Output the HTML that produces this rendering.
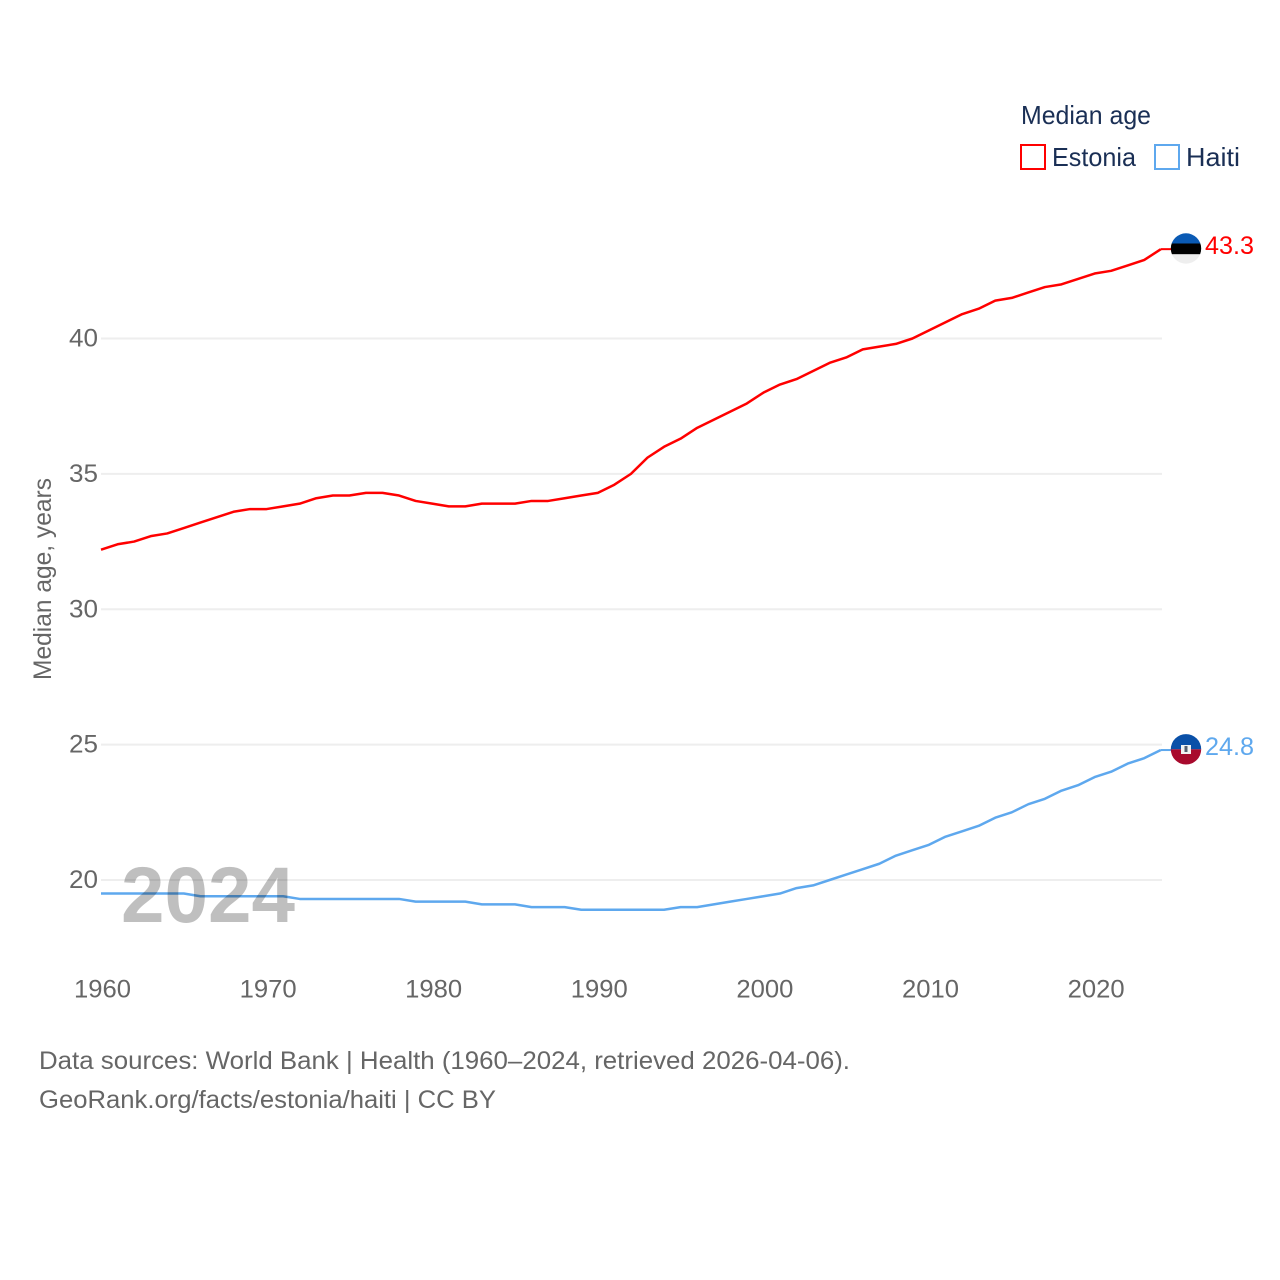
<!DOCTYPE html>
<html>
<head>
<meta charset="utf-8">
<title>Median age: Estonia and Haiti</title>
<style>
html,body{margin:0;padding:0;background:#fff;}
svg{display:block;font-family:"Liberation Sans",sans-serif;}
</style>
</head>
<body>
<svg id="chart" width="1280" height="1280" viewBox="0 0 1280 1280" xmlns="http://www.w3.org/2000/svg">
  <defs>
    <clipPath id="clip-ee"><circle cx="1186" cy="248.5" r="15.2"/></clipPath>
    <clipPath id="clip-ht"><circle cx="1186" cy="749.3" r="15.2"/></clipPath>
  </defs>
  <rect width="1280" height="1280" fill="#fff"/>
  <g id="grid"></g>
  <g id="yticks"></g>
  <g id="xticks"></g>
  <text transform="translate(51,680) rotate(-90)" font-size="25" fill="#666" textLength="202" lengthAdjust="spacingAndGlyphs">Median age, years</text>
  <g id="lines"></g>

  <text x="121" y="922" font-size="79" font-weight="bold" fill="rgba(0,0,0,0.25)" textLength="174" lengthAdjust="spacingAndGlyphs">2024</text>

  <g>
    <text x="1021" y="124" font-size="26" fill="#1a2f55" textLength="130" lengthAdjust="spacingAndGlyphs">Median age</text>
    <rect x="1021" y="145" width="24" height="24" fill="#fff" stroke="#ff0000" stroke-width="2"/>
    <text x="1052" y="166" font-size="26" fill="#1a2f55" textLength="84" lengthAdjust="spacingAndGlyphs">Estonia</text>
    <rect x="1155" y="145" width="24" height="24" fill="#fff" stroke="#5ea8ee" stroke-width="2"/>
    <text x="1186" y="166" font-size="26" fill="#1a2f55" textLength="54" lengthAdjust="spacingAndGlyphs">Haiti</text>
  </g>

  <g clip-path="url(#clip-ee)">
    <rect x="1170" y="233" width="32" height="10.5" fill="#0a5ab4"/>
    <rect x="1170" y="243.5" width="32" height="10.8" fill="#000"/>
    <rect x="1170" y="254.3" width="32" height="10" fill="#eeeeee"/>
  </g>
  <g clip-path="url(#clip-ht)">
    <rect x="1170" y="734" width="32" height="15.3" fill="#0a50a8"/>
    <rect x="1170" y="749.3" width="32" height="15.7" fill="#a80a2d"/>
    <rect x="1181" y="745" width="10" height="9" fill="#f2f2f2"/>
    <rect x="1184.5" y="746" width="3" height="6" fill="#556070"/>
  </g>
  <text x="1205" y="254" font-size="25" fill="#ff0000" textLength="49" lengthAdjust="spacingAndGlyphs">43.3</text>
  <text x="1205" y="755" font-size="25" fill="#5ea8ee" textLength="49" lengthAdjust="spacingAndGlyphs">24.8</text>

  <text x="39" y="1069" font-size="25" fill="#666" textLength="811" lengthAdjust="spacingAndGlyphs">Data sources: World Bank | Health (1960–2024, retrieved 2026-04-06).</text>
  <text x="39" y="1108" font-size="25" fill="#666" textLength="457" lengthAdjust="spacingAndGlyphs">GeoRank.org/facts/estonia/haiti | CC BY</text>
</svg>
<script>
const years = [1960,1961,1962,1963,1964,1965,1966,1967,1968,1969,1970,1971,1972,1973,1974,1975,1976,1977,1978,1979,1980,1981,1982,1983,1984,1985,1986,1987,1988,1989,1990,1991,1992,1993,1994,1995,1996,1997,1998,1999,2000,2001,2002,2003,2004,2005,2006,2007,2008,2009,2010,2011,2012,2013,2014,2015,2016,2017,2018,2019,2020,2021,2022,2023,2024];
const estonia = [32.2,32.4,32.5,32.7,32.8,33.0,33.2,33.4,33.6,33.7,33.7,33.8,33.9,34.1,34.2,34.2,34.3,34.3,34.2,34.0,33.9,33.8,33.8,33.9,33.9,33.9,34.0,34.0,34.1,34.2,34.3,34.6,35.0,35.6,36.0,36.3,36.7,37.0,37.3,37.6,38.0,38.3,38.5,38.8,39.1,39.3,39.6,39.7,39.8,40.0,40.3,40.6,40.9,41.1,41.4,41.5,41.7,41.9,42.0,42.2,42.4,42.5,42.7,42.9,43.3];
const haiti = [19.5,19.5,19.5,19.5,19.5,19.5,19.4,19.4,19.4,19.4,19.4,19.4,19.3,19.3,19.3,19.3,19.3,19.3,19.3,19.2,19.2,19.2,19.2,19.1,19.1,19.1,19.0,19.0,19.0,18.9,18.9,18.9,18.9,18.9,18.9,19.0,19.0,19.1,19.2,19.3,19.4,19.5,19.7,19.8,20.0,20.2,20.4,20.6,20.9,21.1,21.3,21.6,21.8,22.0,22.3,22.5,22.8,23.0,23.3,23.5,23.8,24.0,24.3,24.5,24.8];
const xTickLabels = [1960,1970,1980,1990,2000,2010,2020];
const yTickLabels = [20,25,30,35,40];

const NS = 'http://www.w3.org/2000/svg';
const xScale = function (year) { return 101 + (year - 1960) * 16.56; };
const yScale = function (value) { return 880 - (value - 20) * (541.5 / 20); };

const gridGroup = document.getElementById('grid');
const yTickGroup = document.getElementById('yticks');
const xTickGroup = document.getElementById('xticks');
const lineGroup = document.getElementById('lines');

yTickLabels.forEach(function (tick) {
  const line = document.createElementNS(NS, 'line');
  
  
  line.setAttribute('x1', 101);
  line.setAttribute('x2', 1162);
  line.setAttribute('y1', yScale(tick));
  line.setAttribute('y2', yScale(tick));
  line.setAttribute('stroke', '#eeeeee');
  line.setAttribute('stroke-width', 2);
  gridGroup.appendChild(line);

  const label = document.createElementNS(NS, 'text');
  
  
  label.setAttribute('x', 69);
  label.setAttribute('y', yScale(tick) + 8);
  label.setAttribute('textLength', 29);
  label.setAttribute('lengthAdjust', 'spacingAndGlyphs');
  label.setAttribute('font-size', 25);
  label.setAttribute('fill', '#666');
  label.textContent = tick;
  yTickGroup.appendChild(label);
});

xTickLabels.forEach(function (tick) {
  const label = document.createElementNS(NS, 'text');
  
  
  label.setAttribute('x', xScale(tick) - 27);
  label.setAttribute('y', 997.5);
  label.setAttribute('textLength', 57);
  label.setAttribute('lengthAdjust', 'spacingAndGlyphs');
  label.setAttribute('font-size', 25);
  label.setAttribute('fill', '#666');
  label.textContent = tick;
  xTickGroup.appendChild(label);
});

function drawSeries(values, color, name) {
  const points = values.map(function (value, i) {
    return xScale(years[i]).toFixed(2) + ',' + yScale(value).toFixed(2);
  });
  const line = document.createElementNS(NS, 'polyline');
  
  
  line.setAttribute('points', points.join(' '));
  line.setAttribute('fill', 'none');
  line.setAttribute('stroke', color);
  line.setAttribute('stroke-width', 2.5);
  line.setAttribute('stroke-linejoin', 'round');
  lineGroup.appendChild(line);

  const lastValue = values[values.length - 1];
  const connector = document.createElementNS(NS, 'line');
  
  
  connector.setAttribute('x1', xScale(years[years.length - 1]));
  connector.setAttribute('x2', 1172);
  connector.setAttribute('y1', yScale(lastValue));
  connector.setAttribute('y2', yScale(lastValue));
  connector.setAttribute('stroke', color);
  connector.setAttribute('stroke-width', 2);
  lineGroup.appendChild(connector);
}
drawSeries(estonia, '#ff0000', 'estonia-line');
drawSeries(haiti, '#5ea8ee', 'haiti-line');
</script>
</body>
</html>
